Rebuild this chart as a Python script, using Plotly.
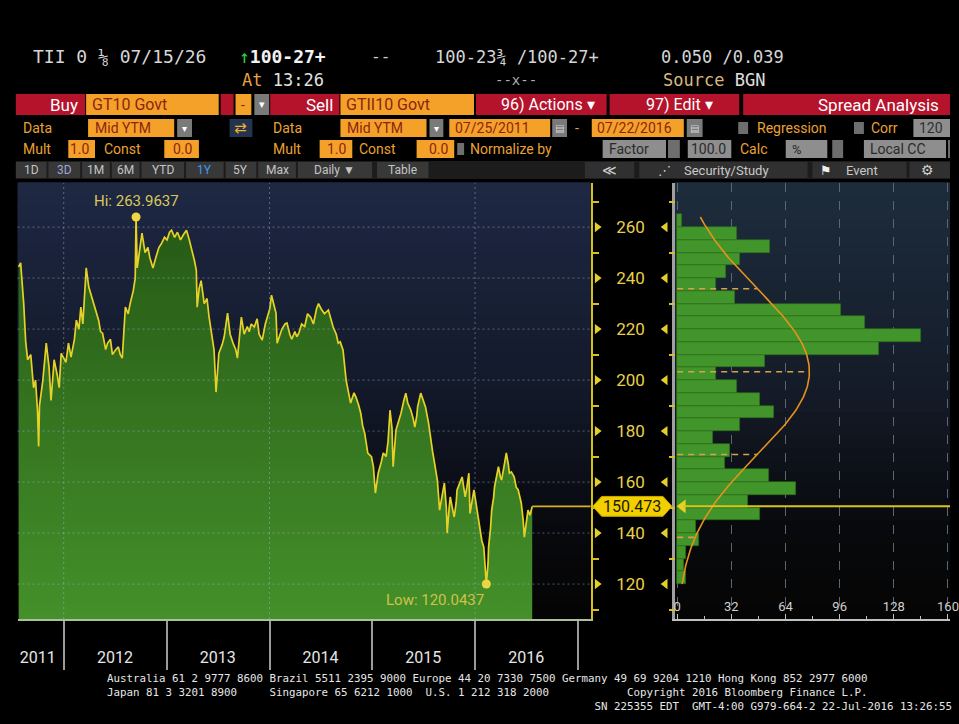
import numpy as np
import plotly.graph_objects as go

# ---------------- data ----------------
dates = [
    "2011-07-25", "2011-08-01", "2011-08-12", "2011-08-19", "2011-08-26", "2011-09-06", "2011-09-16",
    "2011-09-23", "2011-09-30", "2011-10-04", "2011-10-07", "2011-10-19", "2011-10-31", "2011-11-10",
    "2011-11-17", "2011-11-28", "2011-12-09", "2011-12-16", "2011-12-23",
    "2012-01-09", "2012-01-18", "2012-01-27", "2012-02-08", "2012-02-15", "2012-02-24", "2012-03-02",
    "2012-03-09", "2012-03-21", "2012-03-30", "2012-04-11", "2012-04-18", "2012-04-27", "2012-05-04",
    "2012-05-11", "2012-05-18", "2012-05-29", "2012-06-05", "2012-06-15", "2012-06-22", "2012-07-03",
    "2012-07-13", "2012-07-20", "2012-07-27", "2012-08-07", "2012-08-17", "2012-08-24", "2012-09-04",
    "2012-09-11", "2012-09-14", "2012-09-18", "2012-09-25", "2012-10-05", "2012-10-16", "2012-10-26",
    "2012-11-02", "2012-11-13", "2012-11-23", "2012-12-04", "2012-12-14", "2012-12-24",
    "2013-01-02", "2013-01-11", "2013-01-18", "2013-01-29", "2013-02-08", "2013-02-19", "2013-03-01",
    "2013-03-12", "2013-03-22", "2013-03-29", "2013-04-09", "2013-04-16", "2013-04-19", "2013-04-26",
    "2013-05-03", "2013-05-14", "2013-05-24", "2013-05-31", "2013-06-07", "2013-06-18", "2013-06-25",
    "2013-07-01", "2013-07-05", "2013-07-17", "2013-07-24", "2013-08-05", "2013-08-14", "2013-08-26",
    "2013-09-03", "2013-09-09", "2013-09-16", "2013-09-23", "2013-10-03", "2013-10-14", "2013-10-21",
    "2013-10-28", "2013-11-08", "2013-11-18", "2013-11-25", "2013-12-06", "2013-12-17", "2013-12-24",
    "2014-01-02", "2014-01-08", "2014-01-17", "2014-01-24", "2014-01-28", "2014-02-07", "2014-02-14",
    "2014-02-25", "2014-03-04", "2014-03-14", "2014-03-21", "2014-04-01", "2014-04-08", "2014-04-15",
    "2014-04-25", "2014-05-06", "2014-05-16", "2014-05-27", "2014-06-06", "2014-06-17", "2014-06-24",
    "2014-07-03", "2014-07-15", "2014-07-29", "2014-08-08", "2014-08-15", "2014-08-26", "2014-09-02",
    "2014-09-09", "2014-09-19", "2014-09-30", "2014-10-07", "2014-10-16", "2014-10-28", "2014-11-04",
    "2014-11-14", "2014-11-21", "2014-11-28", "2014-12-05", "2014-12-16", "2014-12-29",
    "2015-01-05", "2015-01-12", "2015-01-20", "2015-01-22", "2015-02-02", "2015-02-09", "2015-02-19",
    "2015-02-26", "2015-03-05", "2015-03-12", "2015-03-16", "2015-03-23", "2015-03-26", "2015-04-02",
    "2015-04-13", "2015-04-23", "2015-04-30", "2015-05-07", "2015-05-18", "2015-05-26", "2015-06-01",
    "2015-06-08", "2015-06-11", "2015-06-22", "2015-07-02", "2015-07-09", "2015-07-20", "2015-07-27",
    "2015-08-03", "2015-08-10", "2015-08-20", "2015-08-24", "2015-08-28", "2015-09-08", "2015-09-14",
    "2015-09-21", "2015-09-24", "2015-10-01", "2015-10-05", "2015-10-12", "2015-10-19", "2015-10-26",
    "2015-10-29", "2015-11-09", "2015-11-16", "2015-11-23", "2015-11-27", "2015-12-03", "2015-12-10",
    "2015-12-14", "2015-12-21", "2015-12-28",
    "2016-01-04", "2016-01-08", "2016-01-15", "2016-01-19", "2016-01-25", "2016-02-01", "2016-02-10",
    "2016-02-16", "2016-02-18", "2016-02-25", "2016-02-29", "2016-03-07", "2016-03-10", "2016-03-17",
    "2016-03-24", "2016-03-31", "2016-04-04", "2016-04-11", "2016-04-21", "2016-04-28", "2016-05-02",
    "2016-05-09", "2016-05-19", "2016-05-26", "2016-06-02", "2016-06-13", "2016-06-20", "2016-06-24",
    "2016-06-30", "2016-07-07", "2016-07-14", "2016-07-22",
]
values = [
    244.4, 246, 230, 215, 208, 210, 197,
    200, 188, 174, 190, 200, 214.5, 205,
    192, 208, 202, 197, 210.5,
    207, 214.5, 209, 216, 223.5, 220, 228.6,
    222, 244, 236.5, 232, 228.6, 226, 223.5,
    219, 218.4, 212, 214.5, 216, 210, 211.8,
    213, 210, 208.6, 228.6, 226, 230, 235,
    240, 263.9637, 244, 250, 257.6, 250, 252,
    248, 244, 248, 252, 253.7, 256,
    255, 258, 258.8, 256, 258, 255, 257,
    258.8, 255, 252, 247, 243, 228.6, 236,
    239, 230, 232, 225, 219.6, 211.8, 195.3,
    205, 210.5, 214, 217, 226.3, 218, 214,
    212, 208.6, 218, 224.7, 218, 221, 219,
    222, 220.8, 224, 218, 215.7, 222, 225,
    228, 233.3, 229, 226.3, 214.5, 218, 220,
    222, 222.4, 218, 216, 219, 217, 218.4,
    222, 221, 226, 224.7, 222, 228, 230,
    228, 226, 227.5, 224, 220.8, 218, 214.5,
    215, 211.8, 200, 196, 191, 195, 193.3,
    190, 187, 182, 179.2, 171.4, 170,
    166, 155.7, 162, 163.5, 168, 171.4, 170,
    176, 188.2, 181, 166, 176, 180.4, 183,
    187, 192, 194.9, 191, 188.2, 185, 181.6,
    186, 189.5, 194.9, 192, 189.5, 183, 176.5,
    172, 167.5, 160.8, 155, 149, 156, 159.6,
    150, 140, 150, 154.2, 150, 146.3, 152,
    156.9, 160, 162, 157, 154.2, 158, 163.5,
    147.7, 152, 156.9,
    152, 149, 144, 140, 137, 134.5, 120.0437,
    128, 134.5, 142, 149, 154, 158, 162,
    166, 162, 160.8, 165, 171.4, 167, 163.5,
    164, 162, 158, 157, 151.8, 145, 138.4,
    144, 149, 147, 150.473,
]

year_labels = ["2011", "2012", "2013", "2014", "2015", "2016"]
year_label_dates = ["2011-10-01", "2012-07-01", "2013-07-01", "2014-07-01", "2015-07-01", "2016-07-01"]
year_bounds = ["2012-01-01", "2013-01-01", "2014-01-01", "2015-01-01", "2016-01-01", "2017-01-01"]
grid_dates = ["2012-01-01", "2014-01-01", "2016-01-01"]
y_ticks = [120, 140, 160, 180, 200, 220, 240, 260]
y_minor_ticks = [110, 130, 150, 170, 190, 210, 230, 250, 270]

hist_bin_lo = [120, 125, 130, 135, 140, 145, 150, 155, 160, 165, 170, 175, 180, 185, 190,
               195, 200, 205, 210, 215, 220, 225, 230, 235, 240, 245, 250, 255, 260]
hist_counts = [5, 4, 5, 13, 11, 49, 42, 70, 54, 28, 31, 21, 37, 57, 49,
               35, 23, 52, 119, 144, 111, 97, 34, 23, 29, 37, 55, 35, 3]
hist_ticks = [0, 32, 64, 96, 128, 160]
hist_minor_ticks = [16, 48, 80, 112, 144]
fit_mean = 203.3
fit_std = 32.5
last_value = 150.473

footer_lines = [
    [(0, "Australia 61 2 9777 8600 Brazil 5511 2395 9000 Europe 44 20 7330 7500 Germany 49 69 9204 1210 Hong Kong 852 2977 6000")],
    [(0, "Japan 81 3 3201 8900"), (25, "Singapore 65 6212 1000"), (49, "U.S. 1 212 318 2000"),
     (80, "Copyright 2016 Bloomberg Finance L.P.")],
    [(75, "SN 225355 EDT  GMT-4:00 G979-664-2 22-Jul-2016 13:26:55")],
]

x_range = ["2011-07-21", "2017-02-15"]
y_range = [106.3, 277.3]
hist_x_range = [-1.35, 161.2]

# ---------------- helpers for page layout ----------------
W, H = 959, 724
UI = "Roboto"
MONO = "DejaVu Sans Mono"
SYM = "DejaVu Sans"


def X(px):
    return px / W


def Y(py):
    return 1 - py / H


shapes = []
annotations = []


def box(x0, y0, x1, y1, color):
    shapes.append(dict(type="rect", xref="paper", yref="paper", x0=X(x0), x1=X(x1),
                       y0=Y(y1), y1=Y(y0), fillcolor=color, line=dict(width=0), layer="above"))


def text(x, y, s, color, size, anchor="left", family=UI):
    annotations.append(dict(xref="paper", yref="paper", x=X(x), y=Y(y), text=s, showarrow=False,
                            xanchor=anchor, yanchor="middle", align=anchor if anchor != "center" else "center",
                            font=dict(color=color, size=size, family=family)))


def hex2rgb(h):
    h = h.lstrip("#")
    return [int(h[i:i + 2], 16) for i in (0, 2, 4)]


def grad(stops, t):
    for (t0, c0), (t1, c1) in zip(stops[:-1], stops[1:]):
        if t0 <= t <= t1:
            f = (t - t0) / (t1 - t0) if t1 > t0 else 0
            a, b = hex2rgb(c0), hex2rgb(c1)
            return "rgb(%d,%d,%d)" % tuple(round(a[i] + (b[i] - a[i]) * f) for i in range(3))
    return stops[-1][1]


def bg_bands(xref, yref, stops, n=36):
    for i in range(n):
        shapes.append(dict(type="rect", xref=xref, yref=yref, x0=0, x1=1,
                           y0=1 - (i + 1) / n, y1=1 - i / n + 0.002,
                           fillcolor=grad(stops, (i + 0.5) / n), line=dict(width=0), layer="below"))


dom_main = [X(16.7), X(596)]
dom_gut = [X(596), X(681)]
dom_hist = [X(681), 1.0]
ydom = [Y(619), Y(183)]

YEL = "#e3cf2a"

# ---------------- figure ----------------
fig = go.Figure()

# backgrounds
bg_bands("x domain", "y domain", [(0, "#1f2844"), (0.45, "#131a2b"), (0.8, "#08090e"), (1, "#040404")])
bg_bands("x2 domain", "y2 domain", [(0, "#1d2c3c"), (0.45, "#151c2a"), (0.8, "#08090c"), (1, "#050505")])

# main series
fig.add_trace(go.Scatter(
    x=dates, y=values, mode="lines", line=dict(color="#e6d226", width=1.7),
    fill="tozeroy",
    fillgradient=dict(type="vertical", colorscale=[[0, "#44902a"], [1, "#265916"]],
                      start=y_range[0], stop=max(values)),
    xaxis="x", yaxis="y", hoverinfo="skip"))

i_hi = int(np.argmax(values))
i_lo = int(np.argmin(values))
fig.add_trace(go.Scatter(x=[dates[i_hi], dates[i_lo]], y=[values[i_hi], values[i_lo]], mode="markers",
                         marker=dict(color="#f0d640", size=9), xaxis="x", yaxis="y", hoverinfo="skip"))
annotations.append(dict(x=dates[i_hi], y=values[i_hi], xref="x", yref="y", text="Hi: %.4f" % values[i_hi],
                        showarrow=False, xanchor="center", yanchor="bottom", yshift=5,
                        font=dict(color="#d9c85a", size=15, family=UI)))
annotations.append(dict(x=dates[i_lo], y=values[i_lo], xref="x", yref="y", text="Low: %.4f" % values[i_lo],
                        showarrow=False, xanchor="right", yanchor="top", yshift=-5,
                        font=dict(color="#cfc24a", size=15, family=UI)))

# grid drawn over the fill (faint)
for v in y_ticks:
    shapes.append(dict(type="line", xref="x domain", yref="y", x0=0, x1=1, y0=v, y1=v, layer="above",
                       line=dict(color="rgba(170,185,220,0.45)", width=1, dash="2px,3px")))
for d in grid_dates:
    shapes.append(dict(type="line", xref="x", yref="y domain", x0=d, x1=d, y0=0, y1=1, layer="above",
                       line=dict(color="rgba(170,185,220,0.45)", width=1, dash="2px,3px")))

# current value line (main plot)
shapes.append(dict(type="line", xref="x", yref="y", x0=dates[-1], x1=x_range[1], y0=last_value,
                   y1=last_value, layer="above", line=dict(color="#dcae22", width=1.6)))

# histogram
bin_w = hist_bin_lo[1] - hist_bin_lo[0]
centers = [b + bin_w / 2 for b in hist_bin_lo]
fig.add_trace(go.Bar(x=hist_counts, y=centers, width=bin_w, orientation="h",
                     marker=dict(color="#42952a", line=dict(color="#2e6d1a", width=0.6)),
                     xaxis="x2", yaxis="y2", hoverinfo="skip"))

n_obs = sum(hist_counts)
scale = n_obs * bin_w / (fit_std * np.sqrt(2 * np.pi))
yy = np.linspace(min(values), max(values), 240)
pdf = scale * np.exp(-0.5 * ((yy - fit_mean) / fit_std) ** 2)
for k in (-2, -1, 0, 1, 2):
    lv = fit_mean + k * fit_std
    if min(values) <= lv <= max(values):
        pv = scale * np.exp(-0.5 * k * k)
        fig.add_trace(go.Scatter(x=[0, pv], y=[lv, lv], mode="lines",
                                 line=dict(color="#d9a24a", width=1.6, dash="6px,5px"),
                                 xaxis="x2", yaxis="y2", hoverinfo="skip"))
fig.add_trace(go.Scatter(x=pdf, y=yy, mode="lines", line=dict(color="#e8921e", width=1.6),
                         xaxis="x2", yaxis="y2", hoverinfo="skip"))

shapes.append(dict(type="line", xref="x2", yref="y", x0=4, x1=hist_x_range[1], y0=last_value,
                   y1=last_value, layer="above", line=dict(color="#d8c41c", width=2)))
fig.add_trace(go.Scatter(x=[3.2], y=[last_value], mode="markers",
                         marker=dict(symbol="triangle-left", size=12, color="#e6d020"),
                         xaxis="x2", yaxis="y2", hoverinfo="skip"))

# gutter (axis arrows)
fig.add_trace(go.Scatter(x=[0.075] * len(y_ticks), y=y_ticks, mode="markers",
                         marker=dict(symbol="triangle-right", size=9, color=YEL),
                         xaxis="x3", yaxis="y3", hoverinfo="skip"))
fig.add_trace(go.Scatter(x=[0.885] * len(y_ticks), y=y_ticks, mode="markers",
                         marker=dict(symbol="triangle-left", size=9, color=YEL),
                         xaxis="x3", yaxis="y3", hoverinfo="skip"))

# value tag
t = 3.9
xa, xb, xc, xd = X(598), X(607), X(669), X(678)
shapes.append(dict(type="path", xref="paper", yref="y", layer="above",
                   path="M %f,%f L %f,%f L %f,%f L %f,%f L %f,%f L %f,%f Z" % (
                       xa, last_value, xb, last_value + t, xc, last_value + t, xd, last_value,
                       xc, last_value - t, xb, last_value - t),
                   fillcolor="#f2d000", line=dict(color="#c8a800", width=1)))
annotations.append(dict(xref="paper", yref="y", x=X(638), y=last_value, text="%.3f" % last_value,
                        showarrow=False, xanchor="center", yanchor="middle",
                        font=dict(color="#1a1a00", size=16, family=UI)))

# ---------------- header ----------------
RED = "#b5122c"
ORANGE = "#f4a12a"
OTXT = "#e9a233"
BTXT = "#8e2410"
DGRAY = "#7a7a7a"
LGRAY = "#8e8e8e"

text(30, 57, "TII 0 ⅛ 07/15/26", "#d6d6d6", 18, family=MONO)
text(238, 57, "<span style='color:#2fd04a'>↑</span><b>100-27+</b>", "#f2f2f2", 18, family=MONO)
text(372, 57, "--", "#d0d0d0", 16, family=MONO)
text(437, 57, "100-23¾ /100-27+", "#d6d6d6", 17, family=MONO)
text(665, 57, "0.050 /0.039", "#d6d6d6", 17, family=MONO)
text(242, 80, "<span style='color:#e8a040'>At</span> 13:26", "#e0e0e0", 17, family=MONO)
text(497, 80, "--x--", "#b0b0b0", 14, family=MONO)
text(667, 80, "<span style='color:#d9b77e'>Source</span> BGN", "#e0e0e0", 17, family=MONO)

# row 3
box(15, 94, 85, 115, RED); text(80, 104.5, "Buy", "white", 17, "right")
box(86, 94, 220, 115, ORANGE); text(90, 104.5, "GT10 Govt", BTXT, 16)
box(222, 94, 235, 115, RED)
box(237, 94, 253, 115, ORANGE); text(245, 104.5, "-", BTXT, 14, "center")
box(256, 94, 271, 115, DGRAY); text(263.5, 104.5, "▾", "white", 11, "center", SYM)
box(272, 94, 342, 115, RED); text(338, 104.5, "Sell", "white", 17, "right")
box(343, 94, 478, 115, ORANGE); text(347, 104.5, "GTII10 Govt", BTXT, 16)
box(480, 94, 612, 115, RED); text(503, 104.5, "96) Actions ▾", "white", 16)
box(615, 94, 746, 115, RED); text(650, 104.5, "97) Edit ▾", "white", 16)
box(750, 94, 959, 115, RED); text(950, 104.5, "Spread Analysis", "white", 17, "right")

# row 4
text(20, 128, "Data", OTXT, 14)
box(88, 119, 175, 137, ORANGE); text(93, 128, "Mid YTM", BTXT, 14)
box(178, 119, 193, 137, DGRAY); text(185.5, 128, "▾", "white", 10, "center", SYM)
box(231, 119, 254, 137, "#24344e"); text(242.5, 128, "⇄", "#f0b030", 15, "center", SYM)
text(273, 128, "Data", OTXT, 14)
box(343, 119, 430, 137, ORANGE); text(348, 128, "Mid YTM", BTXT, 14)
box(433, 119, 447, 137, DGRAY); text(440, 128, "▾", "white", 10, "center", SYM)
box(453, 119, 555, 137, ORANGE); text(457, 128, "07/25/2011", BTXT, 14)
box(557, 119, 572, 137, DGRAY); text(564.5, 128, "▤", "#d0d0d0", 10, "center", SYM)
text(578, 128, "-", OTXT, 14)
box(597, 119, 690, 137, ORANGE); text(600, 128, "07/22/2016", BTXT, 14)
box(693, 119, 709, 137, DGRAY); text(701, 128, "▤", "#d0d0d0", 10, "center", SYM)
box(745, 122, 755, 134, "#6e6e6e"); text(762, 128, "Regression", OTXT, 14)
box(862, 122, 872, 134, "#6e6e6e"); text(877, 128, "Corr", OTXT, 14)
box(922, 119, 959, 137, LGRAY); text(926, 128, "120", "#303030", 14)

# row 5
text(20, 149, "Mult", OTXT, 14)
box(68, 140, 95, 158, ORANGE); text(92, 149, "1.0", BTXT, 14, "right")
text(102, 149, "Const", OTXT, 14)
box(165, 140, 200, 158, ORANGE); text(196, 149, "0.0", BTXT, 14, "right")
text(273, 149, "Mult", OTXT, 14)
box(322, 140, 355, 158, ORANGE); text(352, 149, "1.0", BTXT, 14, "right")
text(360, 149, "Const", OTXT, 14)
box(420, 140, 458, 158, ORANGE); text(455, 149, "0.0", BTXT, 14, "right")
box(461, 143, 468, 155, "#6e6e6e"); text(472, 149, "Normalize by", OTXT, 14)
box(608, 140, 672, 158, LGRAY); text(612, 149, "Factor", "#2a2a2a", 14)
box(674, 140, 686, 158, "#6e6e6e")
box(694, 140, 738, 158, LGRAY); text(735, 149, "100.0", "#2a2a2a", 14, "right")
text(745, 149, "Calc", OTXT, 14)
box(793, 140, 835, 158, LGRAY); text(797, 149, "%", "#2a2a2a", 13)
box(840, 140, 851, 158, "#6e6e6e")
box(872, 140, 955, 158, LGRAY); text(876, 149, "Local CC", "#2a2a2a", 14)
box(957, 140, 959, 158, "#6e6e6e")

# row 6
box(15, 161, 959, 179, "#1c1c1c")
buttons = [("1D", 15, 46), ("3D", 48, 80), ("1M", 82, 110), ("6M", 112, 140), ("YTD", 142, 185),
           ("1Y", 187, 225), ("5Y", 227, 258), ("Max", 260, 298), ("Daily ▼", 300, 375), ("Table", 380, 432)]
for lab, a, b in buttons:
    box(a, 162, b, 178, "#383838")
    col = "#3c9cf0" if lab == "1Y" else ("#9aa6d6" if lab == "3D" else "#c4c4c4")
    text((a + b) / 2, 170, lab, col, 12, "center")
box(590, 162, 640, 178, "#303030"); text(615, 170, "≪", "#d0d0d0", 14, "center", SYM)
box(645, 162, 815, 178, "#303030"); text(670, 170, "⋰", "#d0d0d0", 13, "center", SYM)
text(688, 170, "Security/Study", "#c8c8c8", 13)
box(820, 162, 915, 178, "#303030"); text(834, 170, "⚑", "#f0f0f0", 13, "center", SYM)
text(852, 170, "Event", "#c8c8c8", 13)
box(918, 162, 959, 178, "#303030"); text(936, 170, "⚙", "#d0d0d0", 14, "center", SYM)

# footer: one monospace block, columns placed by character position
NB = "\u00a0"
rows = []
for segs in footer_lines:
    s = ""
    for col, part in segs:
        s += NB * max(col - len(s), 0) + part.replace(" ", NB)
    rows.append(s)
annotations.append(dict(xref="paper", yref="paper", x=X(105), y=Y(692), text="<br>".join(rows),
                        showarrow=False, xanchor="left", yanchor="middle", align="left",
                        font=dict(color="#e6e6e6", size=10.8, family=MONO)))

# ---------------- axes ----------------
fig.update_layout(
    width=W, height=H, autosize=False, margin=dict(l=0, r=0, t=0, b=0, pad=0),
    paper_bgcolor="black", plot_bgcolor="black", showlegend=False, hovermode=False,
    bargap=0,
    xaxis=dict(domain=dom_main, range=x_range, type="date", anchor="y", showgrid=False, zeroline=False,
               tickmode="array", tickvals=year_label_dates, ticktext=year_labels,
               ticks="outside", ticklen=23, tickcolor="rgba(0,0,0,0)",
               tickfont=dict(color="#e6e6e6", size=16, family=UI),
               showline=True, linecolor="#aebf9e", linewidth=2,
               minor=dict(tickmode="array", tickvals=year_bounds, ticks="outside", ticklen=49,
                          tickcolor="#9a9a9a", tickwidth=1.5, showgrid=False)),
    yaxis=dict(domain=ydom, range=y_range, anchor="x", side="right", showgrid=False, zeroline=False,
               tickmode="array", tickvals=y_ticks, ticks="", ticklabelstandoff=20,
               tickfont=dict(color="#e8d048", size=17, family=UI),
               showline=True, linecolor="#d8c020", linewidth=2,
               minor=dict(tickmode="array", tickvals=y_minor_ticks, ticks="outside", ticklen=6,
                          tickcolor="#d8c020", tickwidth=1.5)),
    xaxis2=dict(domain=dom_hist, range=hist_x_range, anchor="y2", zeroline=False,
                tickmode="array", tickvals=hist_ticks, ticks="inside", ticklen=5, tickcolor="#c0c0c0",
                ticklabelposition="inside", ticklabeloverflow="allow",
                tickfont=dict(color="#d0d0d0", size=13, family=UI),
                showgrid=True, gridcolor="#5c6672", griddash="dash", gridwidth=1,
                showline=True, linecolor="#c0c0c0", linewidth=1.5,
                minor=dict(tickmode="array", tickvals=hist_minor_ticks, ticks="inside", ticklen=3,
                           tickcolor="#c0c0c0")),
    yaxis2=dict(domain=ydom, range=y_range, anchor="x2", showticklabels=False, ticks="", showgrid=False,
                zeroline=False, showline=True, linecolor="#a0a0a0", linewidth=3),
    xaxis3=dict(domain=dom_gut, range=[0, 1], anchor="y3", visible=False),
    yaxis3=dict(domain=ydom, range=y_range, anchor="x3", side="right", showticklabels=False, ticks="",
                showgrid=False, zeroline=False, showline=False,
                minor=dict(tickmode="array", tickvals=y_minor_ticks, ticks="inside", ticklen=6,
                           tickcolor="#d8c020", tickwidth=1.5)),
    shapes=shapes, annotations=annotations,
)

fig.write_html("out.html", config={"displayModeBar": False, "responsive": False},
               post_script=("document.documentElement.style.margin='0';"
                            "document.documentElement.style.overflow='hidden';"
                            "document.body.style.margin='0';document.body.style.overflow='hidden';"
                            "document.body.style.background='black';"))
